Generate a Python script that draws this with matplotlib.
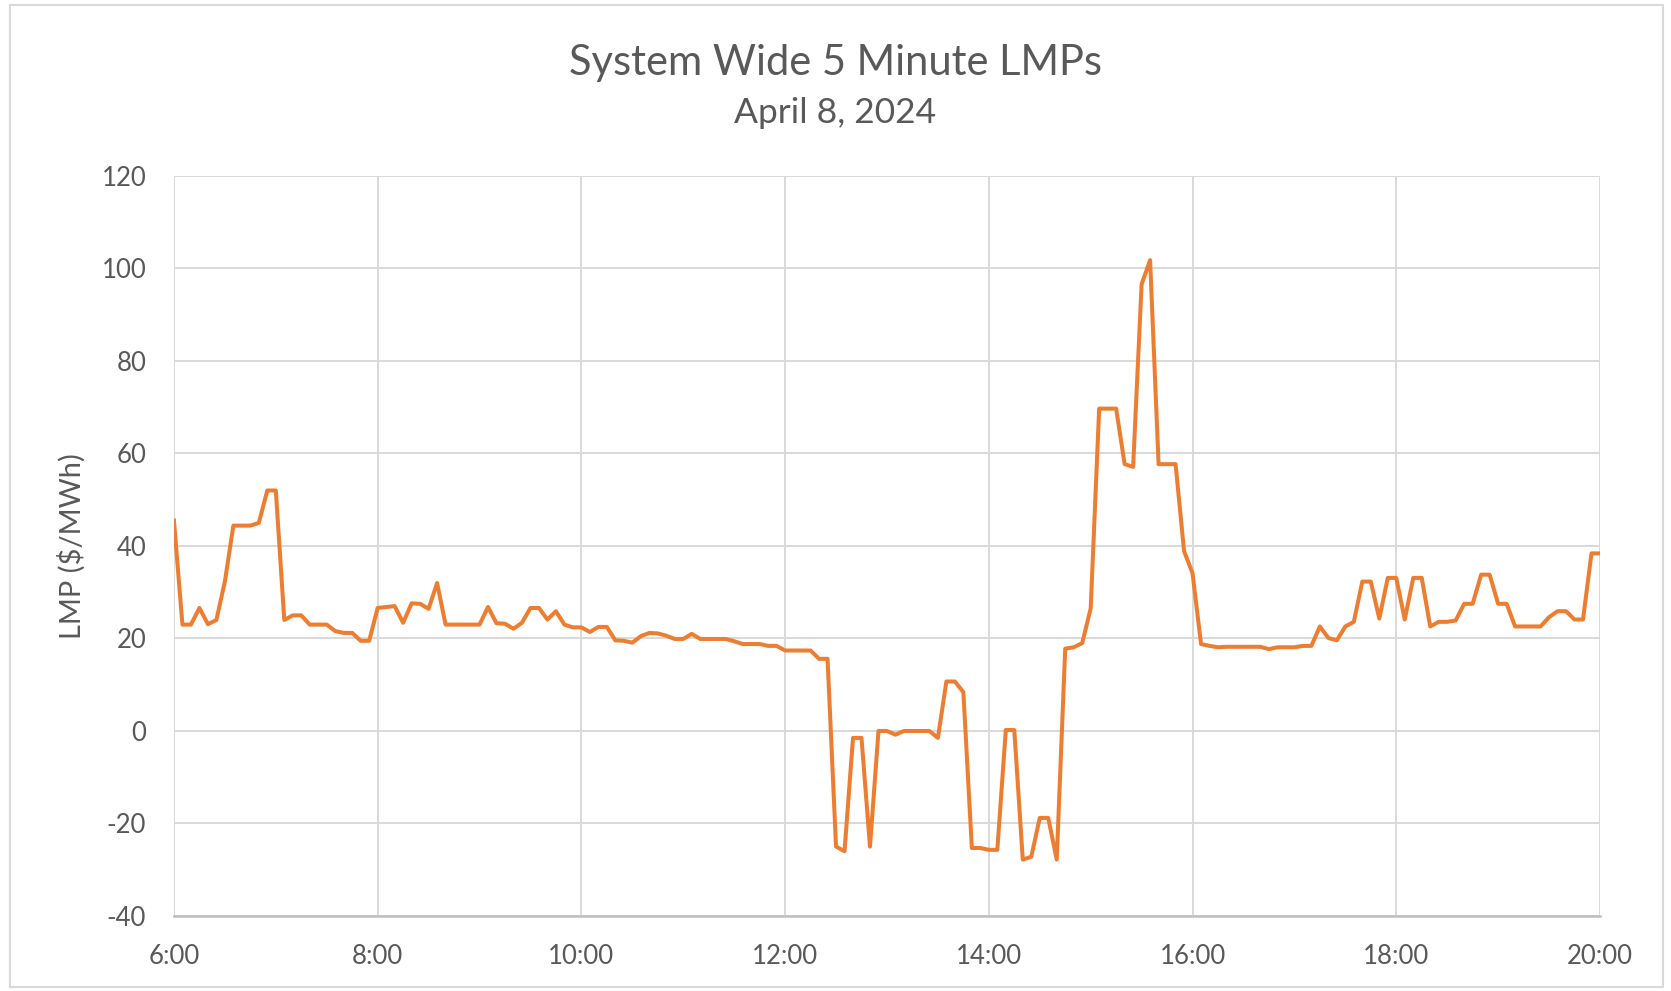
import matplotlib
matplotlib.use("Agg")
import matplotlib.pyplot as plt
from matplotlib.patches import Rectangle
import numpy as np

# 5 minute LMPs ($/MWh), one list per hour starting at 6:00
lmp_06 = [45.5, 23, 23, 26.6, 23.1, 24, 32.3, 44.4, 44.4, 44.4, 45, 52]
lmp_07 = [52, 24, 25, 25, 23, 23, 23, 21.6, 21.2, 21.2, 19.5, 19.5]
lmp_08 = [26.6, 26.8, 27, 23.4, 27.6, 27.5, 26.4, 32, 23, 23, 23, 23]
lmp_09 = [23, 26.8, 23.3, 23.2, 22.1, 23.4, 26.6, 26.6, 24.1, 25.9, 23, 22.4]
lmp_10 = [22.4, 21.4, 22.5, 22.5, 19.6, 19.5, 19.1, 20.5, 21.2, 21.1, 20.6, 19.9]
lmp_11 = [19.9, 21, 19.9, 19.9, 19.9, 19.9, 19.4, 18.8, 18.8, 18.8, 18.4, 18.4]
lmp_12 = [17.4, 17.4, 17.4, 17.4, 15.6, 15.6, -25, -26, -1.5, -1.5, -25, 0]
lmp_13 = [0, -0.8, 0, 0, 0, 0, -1.5, 10.7, 10.7, 8.4, -25.3, -25.3]
lmp_14 = [-25.7, -25.7, 0.2, 0.2, -27.8, -27.2, -18.8, -18.8, -27.8, 17.8, 18.1, 19]
lmp_15 = [26.5, 69.7, 69.7, 69.7, 57.7, 57.1, 96.6, 101.8, 57.7, 57.7, 57.7, 38.9]
lmp_16 = [34.1, 18.8, 18.4, 18.1, 18.2, 18.2, 18.2, 18.2, 18.2, 17.7, 18.1, 18.1]
lmp_17 = [18.1, 18.4, 18.4, 22.6, 20.1, 19.6, 22.6, 23.6, 32.3, 32.3, 24.3, 33.1]
lmp_18 = [33.1, 24.1, 33.1, 33.1, 22.6, 23.6, 23.6, 23.9, 27.5, 27.5, 33.8, 33.8]
lmp_19 = [27.5, 27.5, 22.6, 22.6, 22.6, 22.6, 24.6, 25.9, 25.9, 24.1, 24.1, 38.4]
lmp_20 = [38.4]

tick_hours = [6, 8, 10, 12, 14, 16, 18, 20]
tick_labels = ["6:00", "8:00", "10:00", "12:00", "14:00", "16:00", "18:00", "20:00"]
y_ticks = [-40, -20, 0, 20, 40, 60, 80, 100, 120]

lmp = (lmp_06 + lmp_07 + lmp_08 + lmp_09 + lmp_10 + lmp_11 + lmp_12 + lmp_13
       + lmp_14 + lmp_15 + lmp_16 + lmp_17 + lmp_18 + lmp_19 + lmp_20)
hours = 6 + np.arange(len(lmp)) * 5 / 60

plt.rcParams["font.family"] = ["Lato", "DejaVu Sans"]
plt.rcParams["axes.unicode_minus"] = False
text_col = "#595959"
grid_col = "#d9d9d9"

fig = plt.figure(figsize=(16.71, 9.91), dpi=100)
ax = fig.add_axes([0.1041, 0.0757, 0.8534, 0.7467])

ax.plot(hours, lmp, color="#ED7D31", linewidth=2.9)

ax.set_xlim(6, 20)
ax.set_ylim(-40, 120)
ax.set_xticks(tick_hours)
ax.set_xticklabels(tick_labels)
ax.set_yticks(y_ticks)
ax.grid(True, color=grid_col, linewidth=1.4)
ax.set_axisbelow(True)
for s in ["top", "right", "left"]:
    ax.spines[s].set_visible(False)
ax.spines["bottom"].set_color("#bfbfbf")
ax.spines["bottom"].set_linewidth(1.8)
ax.tick_params(length=0, labelsize=18.5, labelcolor=text_col)
ax.tick_params(axis="x", pad=20)
ax.tick_params(axis="y", pad=20)

ax.set_ylabel("LMP ($/MWh)", fontsize=21, color=text_col)
ax.yaxis.set_label_coords(-0.062, 0.5)

fig.text(0.5, 0.936, "System Wide 5 Minute LMPs", ha="center", va="center",
         fontsize=30, color=text_col)
fig.text(0.5, 0.886, "April 8, 2024", ha="center", va="center",
         fontsize=25.5, color=text_col)

fig.patches.append(Rectangle((0.006, 0.004), 0.989, 0.991, transform=fig.transFigure,
                             fill=False, edgecolor=grid_col, linewidth=1.5))

fig.savefig("out.png", dpi=100)
